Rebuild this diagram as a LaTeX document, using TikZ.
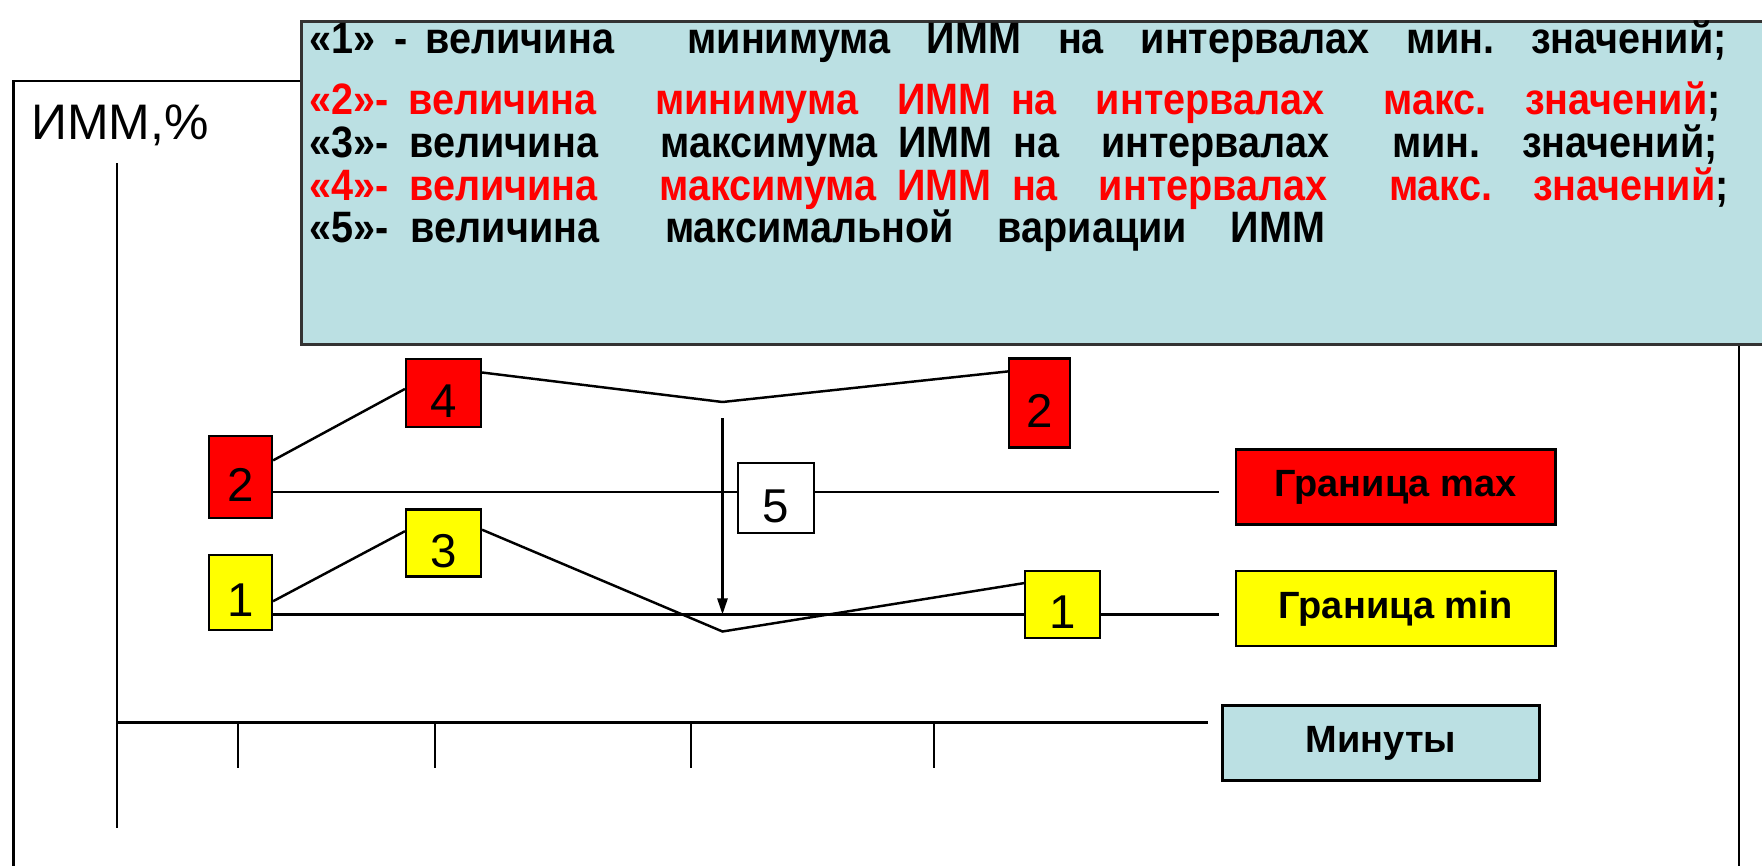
\documentclass[tikz,border=0pt]{standalone}
\usepackage{fontspec}
\setmainfont{Liberation Sans}
\newfontfamily\legfont[FakeStretch=0.9]{Liberation Sans}
\usepackage{tikz}
\usetikzlibrary{arrows.meta, backgrounds, positioning}
\definecolor{legendblue}{HTML}{BBE0E3}
\definecolor{hired}{HTML}{FF0000}
\definecolor{loyellow}{HTML}{FFFF00}
\newcommand{\rd}[1]{\textcolor{hired}{#1}}
\tikzstyle{line}=[line width=0.7pt]
\tikzstyle{maxbox}=[rectangle, draw=black, fill=hired, line width=0.6pt, inner sep=0pt, text height=0.48cm, text depth=0pt, font=\fontsize{13.5}{15}\selectfont]
\tikzstyle{minbox}=[maxbox, fill=loyellow]
\tikzstyle{varbox}=[maxbox, fill=white]
\tikzstyle{tag}=[rectangle, draw=black, line width=0.8pt, minimum width=3.19cm, minimum height=0.75cm, font=\bfseries\fontsize{10.8}{12}\selectfont]
\tikzstyle{legline}=[anchor=west, inner sep=0pt, text height=9pt, text depth=2.5pt, font=\legfont\bfseries\fontsize{12.5}{14}\selectfont]

\begin{document}
\begin{tikzpicture}[x=0.01cm, y=-0.01cm]
  \useasboundingbox (0,0) rectangle (1762,866);
  \clip (0,0) rectangle (1762,866);
  % legend
  \node[rectangle, draw=black!80, fill=legendblue, line width=0.8pt, anchor=north west,
        minimum width=15cm, minimum height=3.23cm] (legend) at (300,20) {};
  \node[legline] (l1) at (309,41.6) {\makebox[14.16cm][s]{«1» - величина~~~~минимума~~ИММ~~на~~интервалах~~мин.~~значений;}};
  \node[legline] (l2) at (309,103.5) {\makebox[14.10cm][s]{\rd{«2»- величина~~~минимума~~ИММ на~~интервалах~~~макс.~~значений};}};
  \node[legline] (l3) at (309,146) {\makebox[14.07cm][s]{«3»- величина~~~максимума ИММ на~~интервалах~~~мин.~~значений;}};
  \node[legline] (l4) at (309,189) {\makebox[14.18cm][s]{\rd{«4»- величина~~~максимума ИММ на~~интервалах~~~макс.~~значений};}};
  \node[legline] (l5) at (309,231.5) {\makebox[10.15cm][s]{«5»- величина~~~максимальной~~вариации~~ИММ}};
  % frame
  \coordinate (ftl) at (13.5,81);
  \coordinate (fr) at (1739,866);
  \draw[line] (13.5,866) -- (ftl) -- (legend.west |- ftl);
  \draw[line] (legend.south -| fr) -- (fr);
  \node[font=\fontsize{14.2}{17}\selectfont] (ylabel) at (120,125) {ИММ,\%};
  % axes
  \draw[line] (117,163) -- (117,828);
  \draw[line] (117,722.5) -- (1208,722.5);
  \foreach \x in {238,435,691,934}
    \draw[line] (\x,722.5) -- (\x,767.5);
  % boxes
  \node[maxbox, minimum width=0.63cm, minimum height=0.82cm] (b2l) at (240.5,477) {2};
  \node[maxbox, minimum width=0.75cm, minimum height=0.68cm] (b4) at (443.5,393) {4};
  \node[maxbox, minimum width=0.61cm, minimum height=0.89cm] (b2r) at (1039.5,403) {2};
  \node[minbox, minimum width=0.63cm, minimum height=0.75cm] (b1l) at (240.5,592.5) {1};
  \node[minbox, minimum width=0.75cm, minimum height=0.67cm] (b3) at (443.5,543) {3};
  \node[minbox, minimum width=0.75cm, minimum height=0.67cm] (b1r) at (1062.5,604.5) {1};
  \node[varbox, minimum width=0.76cm, minimum height=0.70cm] (b5) at (776,498) {5};
  \node[tag, fill=hired] (tmax) at (1395.5,487) {Граница max};
  \node[tag, fill=loyellow] (tmin) at (1395.5,608.5) {Граница min};
  \node[tag, fill=legendblue, minimum width=3.17cm] (mins) at (1381,743) {Минуты};
  % levels and curves
  \coordinate (maxend) at (1219,492);
  \coordinate (minend) at (1219,614.5);
  \coordinate (topv) at (722.5,402);
  \coordinate (botv) at (722.5,631.5);
  \coordinate (arrtop) at (722.5,418);
  \draw[line] (b2l.east |- maxend) -- (b5.west |- maxend);
  \draw[line] (b5.east |- maxend) -- (maxend);
  \draw[line] (b1l.east |- minend) -- (b1r.west |- minend);
  \draw[line] (b1r.east |- minend) -- (minend);
  \draw[line] (b2l.27) -- (b4.174);
  \draw[line] (b4.28) -- (topv) -- (b2r.135);
  \draw[line] (b1l.-15) -- (b3.163);
  \draw[line] (b3.19) -- (botv) -- (b1r.151);
  \draw[line, -{Triangle[length=1.6mm, width=1mm]}] (arrtop) -- (botv |- minend);
\end{tikzpicture}
\end{document}
